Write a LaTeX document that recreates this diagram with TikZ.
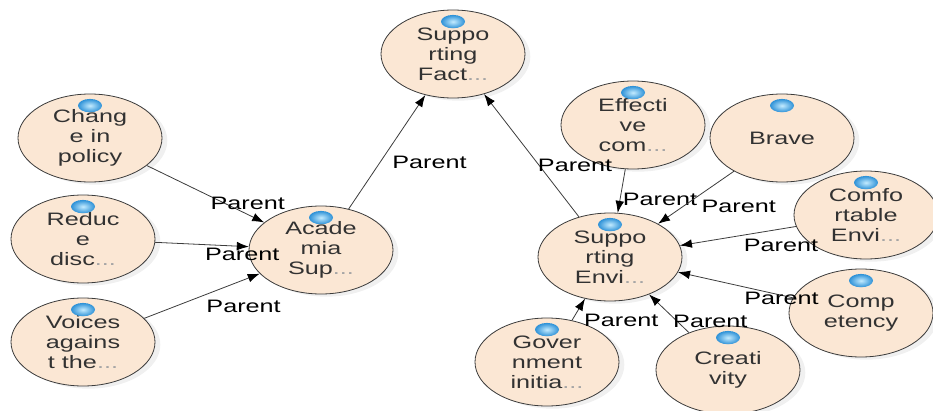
\documentclass[tikz,border=0pt]{standalone}
\usepackage{fontspec}
\setmainfont{Liberation Sans}[FakeStretch=1.4]
\usepackage{tikz}
\usetikzlibrary{arrows.meta,shapes.geometric,shadows}
\definecolor{nodefill}{RGB}{251,231,212}
\definecolor{nodeline}{RGB}{60,60,60}
\definecolor{nodetext}{RGB}{50,50,50}
\definecolor{dotgray}{RGB}{165,165,165}
\definecolor{marklight}{RGB}{195,235,255}
\definecolor{markedge}{RGB}{45,145,215}
\newcommand{\more}{\textcolor{dotgray}{...}}

\begin{document}
\begin{tikzpicture}[x=0.75pt,y=-0.75pt,
  topic/.style={ellipse,draw=nodeline,fill=nodefill,line width=0.6pt,
    minimum width=108pt,minimum height=66pt,inner sep=0pt,align=center,
    font=\fontsize{13.5}{15}\selectfont,text=nodetext,
    drop shadow={shadow xshift=4pt,shadow yshift=-2pt,opacity=0.12}},
  marker/.style={inner color=marklight,outer color=markedge},
  link/.style={draw=nodeline,line width=0.6pt,-{Latex[length=9pt,width=6.5pt,color=black]}},
  lbl/.style={font=\fontsize{13.5}{15}\selectfont,inner sep=0pt}]
  \useasboundingbox (0,0) rectangle (933,411);
  % topics
  \node[topic] (fact) at (453,54) {Suppo\\rting\\Fact\more};
  \node[topic] (change) at (90,138) {Chang\\e in\\policy};
  \node[topic] (reduce) at (83,239) {Reduc\\e\\disc\more};
  \node[topic] (voices) at (83,342) {Voices\\agains\\t the\more};
  \node[topic] (acad) at (321,250) {Acade\\mia\\Sup\more};
  \node[topic] (effect) at (633,125) {Effecti\\ve\\com\more};
  \node[topic] (brave) at (782,138) {Brave};
  \node[topic] (comfort) at (866,215) {Comfo\\rtable\\Envi\more};
  \node[topic] (env) at (610,257) {Suppo\\rting\\Envi\more};
  \node[topic] (compet) at (861,313) {Comp\\etency};
  \node[topic] (govt) at (547,362) {Gover\\nment\\initia\more};
  \node[topic] (creat) at (728,370) {Creati\\vity};
  \foreach \n in {fact,change,reduce,voices,acad,effect,brave,comfort,env,compet,govt,creat}
    \shade[marker] ([yshift=-9pt]\n.north) ellipse [x radius=9pt,y radius=5pt];
  % parent links
  \draw[link] (change) -- node[lbl,pos=0.86,yshift=8pt]{Parent} (acad);
  \draw[link] (reduce) -- node[lbl,pos=0.93,yshift=-6pt]{Parent} (acad);
  \draw[link] (voices) -- node[lbl,pos=0.86,yshift=-20pt]{Parent} (acad);
  \draw[link] (acad) -- node[lbl,pos=0.41,xshift=37pt]{Parent} (fact);
  \draw[link] (env) -- node[lbl,pos=0.42,xshift=27pt]{Parent} (fact);
  \draw[link] (effect) -- node[lbl,pos=0.7,xshift=30pt]{Parent} (env);
  \draw[link] (brave) -- node[lbl,pos=0.5,xshift=32pt,yshift=-7pt]{Parent} (env);
  \draw[link] (comfort) -- node[lbl,pos=0.13,yshift=-12pt]{Parent} (env);
  \draw[link] (compet) -- node[lbl,pos=0.1,yshift=-2pt]{Parent} (env);
  \draw[link] (govt) -- node[lbl,pos=0.5,xshift=32pt,yshift=-8pt]{Parent} (env);
  \draw[link] (creat) -- node[lbl,pos=0.3,xshift=25pt]{Parent} (env);
\end{tikzpicture}
\end{document}
